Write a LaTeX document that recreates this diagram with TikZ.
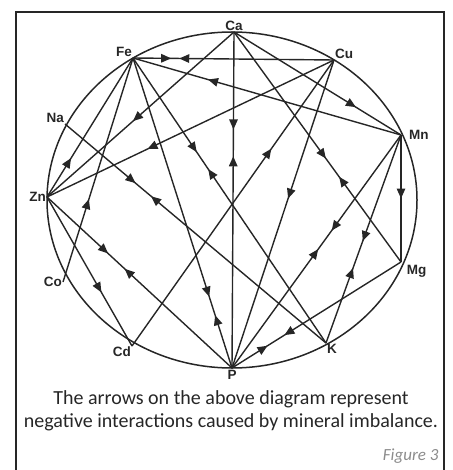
\documentclass[tikz,border=0pt]{standalone}
\usepackage{fontspec}
\setmainfont{Carlito}
\newfontfamily\elemfont{Liberation Sans}
\usetikzlibrary{arrows.meta,decorations.markings}

\begin{document}
\begin{tikzpicture}[
  x=1pt, y=-1pt,
  elem/.style={inner sep=0pt, outer sep=0pt, minimum size=0pt},
  lbl/.style={font=\elemfont\bfseries\fontsize{13.5}{14}\selectfont, inner sep=1pt,
              text=black!85},
  link/.style={line width=1.4pt, black!85},
  fwd/.style={postaction={decorate, decoration={markings,
      mark=at position #1 with {\arrow{Triangle[length=10pt,width=8.5pt]}}}}},
  bwd/.style={postaction={decorate, decoration={markings,
      mark=at position #1 with {\arrowreversed{Triangle[length=10pt,width=8.5pt]}}}}},
  rim/.style={line width=1.5pt, black!85},
  frame/.style={line width=2.2pt, black!85}
]
\useasboundingbox (0,0) rectangle (452,470);
\draw[frame] (16,12) rectangle (444,480);
\draw[rim] (232,200) ellipse [x radius=185, y radius=168];

% minerals round the rim
\node[elem, label={[lbl]above:Ca}] (ca) at (234,32) {};
\node[elem, label={[lbl]50:Cu}] (cu) at (334,60) {};
\node[elem, label={[lbl, label distance=7pt]0:Mn}] (mn) at (401,135) {};
\node[elem, label={[lbl, label distance=5pt]-20:Mg}] (mg) at (401,262) {};
\node[elem, label={[lbl]-40:K}] (k) at (326,343) {};
\node[elem, label={[lbl, label distance=1pt]below:P}] (p) at (232,368) {};
\node[elem, label={[lbl]-150:Cd}] (cd) at (132,346) {};
\node[elem, label={[lbl]left:Co}] (co) at (63,282) {};
\node[elem, label={[lbl]left:Zn}] (zn) at (47,197) {};
\node[elem, label={[lbl]135:Na}] (na) at (65,124) {};
\node[elem, label={[lbl]105:Fe}] (fe) at (133,58) {};

% interactions
\draw[link, fwd=0.19, bwd=0.23] (fe) -- (cu);
\draw[link, bwd=0.28] (fe) -- (mn);
\draw[link, fwd=0.33, bwd=0.39] (fe) -- (k);
\draw[link, fwd=0.77, bwd=0.83] (fe) -- (p);
\draw[link, fwd=0.28] (zn) -- (fe);
\draw[link, fwd=0.37] (co) -- (fe);
\draw[link, fwd=0.29, bwd=0.37] (ca) -- (p);
\draw[link, fwd=0.54] (ca) -- (zn);
\draw[link, fwd=0.73] (ca) -- (mn);
\draw[link, fwd=0.55, bwd=0.63] (ca) -- (mg);
\draw[link, fwd=0.65] (cu) -- (zn);
\draw[link, fwd=0.69] (cd) -- (cu);
\draw[link, fwd=0.45] (cu) -- (p);
\draw[link, fwd=0.50] (mn) -- (mg);
\draw[link, fwd=0.51, bwd=0.64] (mn) -- (k);
\draw[link, fwd=0.51, bwd=0.59] (p) -- (mn);
\draw[link, fwd=0.21, bwd=0.31] (p) -- (mg);
\draw[link, fwd=0.27, bwd=0.33] (na) -- (k);
\draw[link, fwd=0.33, bwd=0.42] (zn) -- (p);
\draw[link, fwd=0.64] (zn) -- (cd);

\node[font=\fontsize{20}{23}\selectfont, align=center, text=black!85] (cap) at (231,411)
  {The arrows on the above diagram represent\\negative interactions caused by mineral imbalance.};
\node[anchor=east, font=\fontsize{17}{21}\selectfont\itshape, text=black!45] (fig) at (442,456) {Figure 3};
\end{tikzpicture}
\end{document}
